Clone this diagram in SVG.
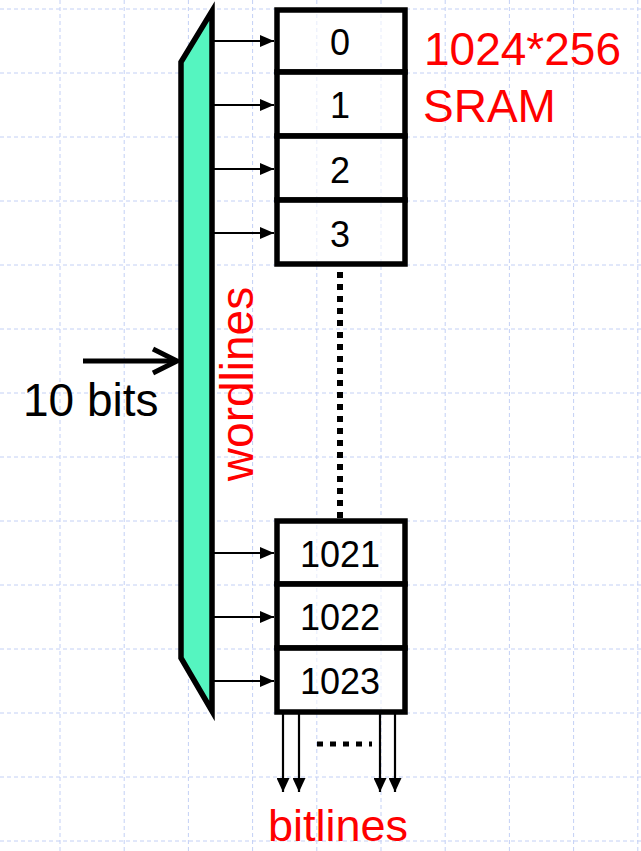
<svg xmlns="http://www.w3.org/2000/svg" width="641" height="851" viewBox="0 0 641 851">
<defs>
<style>
.grid line{stroke:#c3d0f5;stroke-width:1;stroke-dasharray:4 3}
.box{fill:#fff;fill-opacity:0.6;stroke:#000;stroke-width:5.5}
.num{font-family:"Liberation Sans",Arial,sans-serif;font-size:36px;fill:#000;text-anchor:middle}
.big{font-family:"Liberation Sans",Arial,sans-serif;font-size:46px}
.red{fill:#ff0000}
.wl{stroke:#000;stroke-width:2;fill:none;marker-end:url(#ah)}
.bl{stroke:#000;stroke-width:2.2;fill:none;marker-end:url(#ahd)}
</style>
<marker id="ah" viewBox="0 0 14 12" refX="14" refY="6" markerWidth="14" markerHeight="12" markerUnits="userSpaceOnUse" orient="auto">
<path d="M0,0 L14,6 L0,12 Z" fill="#000"/>
</marker>
<marker id="ahd" viewBox="0 0 14 13" refX="14" refY="6.5" markerWidth="14" markerHeight="13" markerUnits="userSpaceOnUse" orient="auto">
<path d="M0,0 L14,6.5 L0,13 Z" fill="#000"/>
</marker>
</defs>
<rect width="641" height="851" fill="#fff"/>
<g class="grid">
<line x1="60" y1="0" x2="60" y2="851"/>
<line x1="124.2" y1="0" x2="124.2" y2="851"/>
<line x1="188.4" y1="0" x2="188.4" y2="851"/>
<line x1="252.6" y1="0" x2="252.6" y2="851"/>
<line x1="316.8" y1="0" x2="316.8" y2="851"/>
<line x1="381" y1="0" x2="381" y2="851"/>
<line x1="445.2" y1="0" x2="445.2" y2="851"/>
<line x1="509.4" y1="0" x2="509.4" y2="851"/>
<line x1="573.6" y1="0" x2="573.6" y2="851"/>
<line x1="637.8" y1="0" x2="637.8" y2="851"/>
<line x1="0" y1="9" x2="641" y2="9"/>
<line x1="0" y1="73" x2="641" y2="73"/>
<line x1="0" y1="137" x2="641" y2="137"/>
<line x1="0" y1="201" x2="641" y2="201"/>
<line x1="0" y1="265" x2="641" y2="265"/>
<line x1="0" y1="329" x2="641" y2="329"/>
<line x1="0" y1="393" x2="641" y2="393"/>
<line x1="0" y1="457" x2="641" y2="457"/>
<line x1="0" y1="521" x2="641" y2="521"/>
<line x1="0" y1="585" x2="641" y2="585"/>
<line x1="0" y1="649" x2="641" y2="649"/>
<line x1="0" y1="713" x2="641" y2="713"/>
<line x1="0" y1="777" x2="641" y2="777"/>
<line x1="0" y1="841" x2="641" y2="841"/>
</g>
<g id="decoder">
<polygon points="212,11 212,711 181,658 181,62" fill="#55f5c0" stroke="#000" stroke-width="5.5" stroke-linejoin="miter"/>
</g>
<g id="row0"><rect class="box" x="277" y="10" width="128" height="62"/><text class="num" x="340" y="55">0</text></g>
<g id="row1"><rect class="box" x="277" y="72" width="128" height="64"/><text class="num" x="340" y="118">1</text></g>
<g id="row2"><rect class="box" x="277" y="136" width="128" height="64"/><text class="num" x="340" y="183">2</text></g>
<g id="row3"><rect class="box" x="277" y="200" width="128" height="64"/><text class="num" x="340" y="247">3</text></g>
<g id="row1021"><rect class="box" x="277" y="521" width="128" height="63"/><text class="num" x="340" y="567">1021</text></g>
<g id="row1022"><rect class="box" x="277" y="584" width="128" height="64"/><text class="num" x="340" y="630">1022</text></g>
<g id="row1023"><rect class="box" x="277" y="648" width="128" height="64"/><text class="num" x="340" y="694">1023</text></g>
<g id="connectors">
<line class="wl" x1="214" y1="41" x2="274" y2="41"/>
<line class="wl" x1="214" y1="105" x2="274" y2="105"/>
<line class="wl" x1="214" y1="169" x2="274" y2="169"/>
<line class="wl" x1="214" y1="233" x2="274" y2="233"/>
<line class="wl" x1="214" y1="553" x2="274" y2="553"/>
<line class="wl" x1="214" y1="617" x2="274" y2="617"/>
<line class="wl" x1="214" y1="681" x2="274" y2="681"/>
<line x1="340" y1="272" x2="340" y2="518" stroke="#000" stroke-width="6" stroke-dasharray="6 6"/>
<line x1="83" y1="361" x2="176" y2="361" stroke="#000" stroke-width="5"/>
<polyline points="153,349 177,361 153,373" fill="none" stroke="#000" stroke-width="5"/>
<line class="bl" x1="283" y1="714" x2="283" y2="792"/>
<line class="bl" x1="299" y1="714" x2="299" y2="792"/>
<line class="bl" x1="380" y1="714" x2="380" y2="792"/>
<line class="bl" x1="395" y1="714" x2="395" y2="792"/>
<line x1="317" y1="744" x2="372" y2="744" stroke="#000" stroke-width="5" stroke-dasharray="6 7"/>
</g>
<g id="labels">
<text class="big red" x="424" y="65">1024*256</text>
<text class="big red" x="423" y="122">SRAM</text>
<text class="big" x="23" y="416" fill="#000">10 bits</text>
<text class="big red" text-anchor="middle" transform="translate(253,384) rotate(-90)">wordlines</text>
<text class="big red" x="268" y="841" style="font-size:45px">bitlines</text>
</g>
</svg>
